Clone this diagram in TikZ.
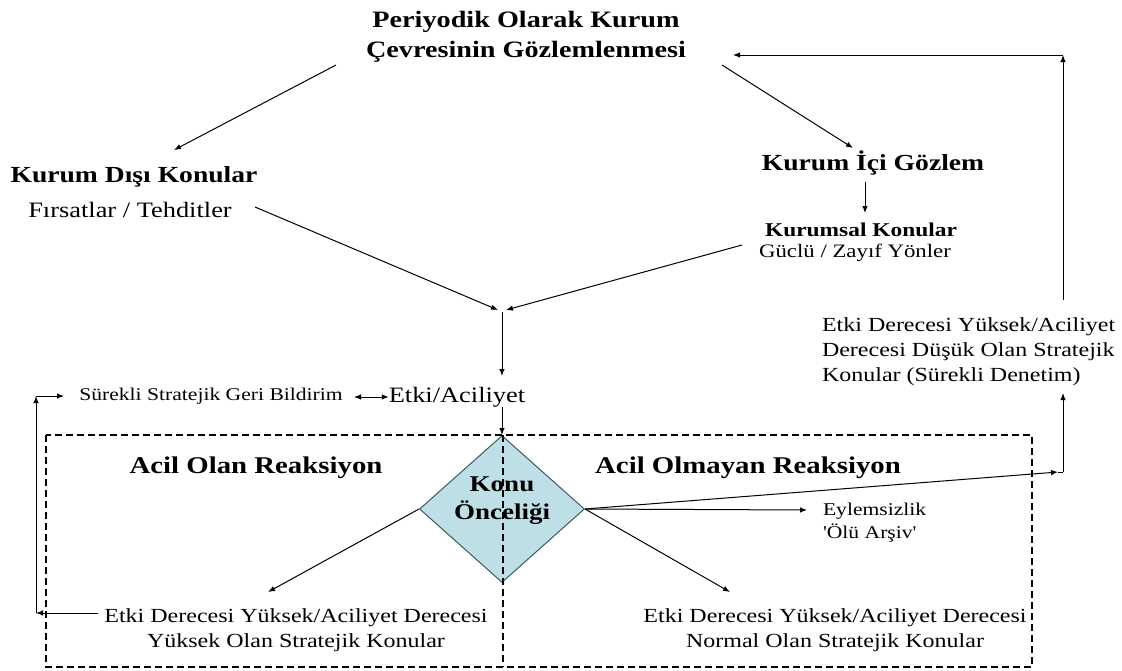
\documentclass[tikz,border=0pt]{standalone}
\usepackage{fontspec}
\setmainfont{Liberation Serif}[FakeStretch=1.2]
\newfontfamily\plainq{Liberation Serif}[FakeStretch=1.2,Ligatures=TeXOff]
\usetikzlibrary{arrows.meta,shapes.geometric}
\definecolor{diafill}{RGB}{190,223,229}
\definecolor{diaedge}{RGB}{60,90,95}
\begin{document}
\begin{tikzpicture}[x=1pt,y=-1pt,
  txt/.style={inner sep=0pt, outer sep=0pt, align=center},
  tb/.style={txt, font=\bfseries\fontsize{23.5}{30}\selectfont},
  hb/.style={txt, font=\bfseries\fontsize{23}{28}\selectfont},
  hr/.style={txt, font=\fontsize{22}{26}\selectfont},
  mb/.style={txt, font=\bfseries\fontsize{19.5}{23}\selectfont},
  mr/.style={txt, font=\fontsize{19}{23}\selectfont},
  er/.style={txt, font=\fontsize{22}{26}\selectfont},
  sr/.style={txt, font=\fontsize{18}{23}\selectfont},
  rb/.style={txt, font=\bfseries\fontsize{24}{28}\selectfont},
  db/.style={txt, font=\bfseries\fontsize{22.5}{28}\selectfont},
  br/.style={txt, font=\fontsize{20}{25}\selectfont},
  arr/.style={-{Latex[length=7pt,width=5.5pt]}, line width=1pt},
  darr/.style={{Latex[length=7pt,width=5.5pt]}-{Latex[length=7pt,width=5.5pt]}, line width=1pt},
  plain/.style={line width=1pt},
  dashbox/.style={line width=1.2pt, dash pattern=on 7pt off 4pt},
  dia/.style={diamond, draw=diaedge, fill=diafill, line width=1pt, inner sep=0pt, minimum width=165pt, minimum height=147pt}
]
\useasboundingbox (0,0) rectangle (1122,670);

% text nodes
\node[tb] (title) at (526,37) {Periyodik Olarak Kurum\\Çevresinin Gözlemlenmesi};
\node[hb] (dis) at (134,177) {Kurum Dışı Konular};
\node[hr] (firsat) at (130,210) {Fırsatlar / Tehditler};
\node[hb] (ici) at (873,163) {Kurum İçi Gözlem};
\node[mb] (kurumsal) at (861,230) {Kurumsal Konular};
\node[mr] (guclu) at (855,253) {Güclü / Zayıf Yönler};
\node[er] (etki) at (457,397) {Etki/Aciliyet};
\node[sr] (geri) at (211,396) {Sürekli Stratejik Geri Bildirim};
\node[dia] (konu) at (502,509) {};
\node[db] (konutxt) at (502,501) {Konu\\Önceliği};
\node[rb] (acil) at (256,468) {Acil Olan Reaksiyon};
\node[rb] (olmayan) at (748,468) {Acil Olmayan Reaksiyon};
\node[sr, anchor=west, align=left, font=\plainq\fontsize{18}{23}\selectfont] (eylem) at (823,523) {Eylemsizlik\\'Ölü Arşiv'};
\node[br, anchor=west, align=left] (low) at (822,352) {Etki Derecesi Yüksek/Aciliyet\\Derecesi Düşük Olan Stratejik\\Konular (Sürekli Denetim)};
\node[br] (high) at (296,630) {Etki Derecesi Yüksek/Aciliyet Derecesi\\Yüksek Olan Stratejik Konular};
\node[br] (normal) at (835,630) {Etki Derecesi Yüksek/Aciliyet Derecesi\\Normal Olan Stratejik Konular};

% dashed frame
\draw[dashbox] (46,435) rectangle (1032,667);
\draw[dashbox] (503,435) -- (503,667);

% coordinates
\coordinate (t1) at (336,65);
\coordinate (d1) at (174,150);
\coordinate (t2) at (722,65);
\coordinate (i1) at (853,148);
\coordinate (i2) at (865,182);
\coordinate (k0) at (865,213);
\coordinate (f1) at (255,207);
\coordinate (mL) at (498,310);
\coordinate (k1) at (742,245);
\coordinate (mR) at (506,310);
\coordinate (m0) at (502,312);
\coordinate (e0) at (502,376);
\coordinate (e1) at (502,407);
\coordinate (gE) at (354,397);
\coordinate (h0) at (268,592);
\coordinate (n0) at (730,592);
\coordinate (y0) at (807,510);
\coordinate (rc1) at (1058,472);
\coordinate (rc) at (1063,472);
\coordinate (lowB) at (1063,393);
\coordinate (lowT) at (1063,300);
\coordinate (tr) at (1063,55);
\coordinate (tE) at (733,55);
\coordinate (hL) at (98,613);
\coordinate (bl) at (36,613);
\coordinate (tl) at (36,396);
\coordinate (gW) at (64,396);

% connectors
\draw[arr] (t1) -- (d1);
\draw[arr] (t2) -- (i1);
\draw[arr] (i2) -- (k0);
\draw[arr] (f1) -- (mL);
\draw[arr] (k1) -- (mR);
\draw[arr] (m0) -- (e0);
\draw[arr] (e1) -- (konu.north);
\draw[darr] (gE) -- (etki.west);
\draw[arr] (konu.west) -- (h0);
\draw[arr] (konu.east) -- (n0);
\draw[arr] (konu.east) -- (y0);
\draw[arr] (konu.east) -- (rc1);
\draw[plain] (rc1) -- (rc);
\draw[arr] (rc) -- (lowB);
\draw[arr] (lowT) -- (tr);
\draw[arr] (tr) -- (tE);
\draw[arr] (hL) -- (bl);
\draw[arr] (bl) -- (tl);
\draw[arr] (tl) -- (gW);
\end{tikzpicture}
\end{document}
